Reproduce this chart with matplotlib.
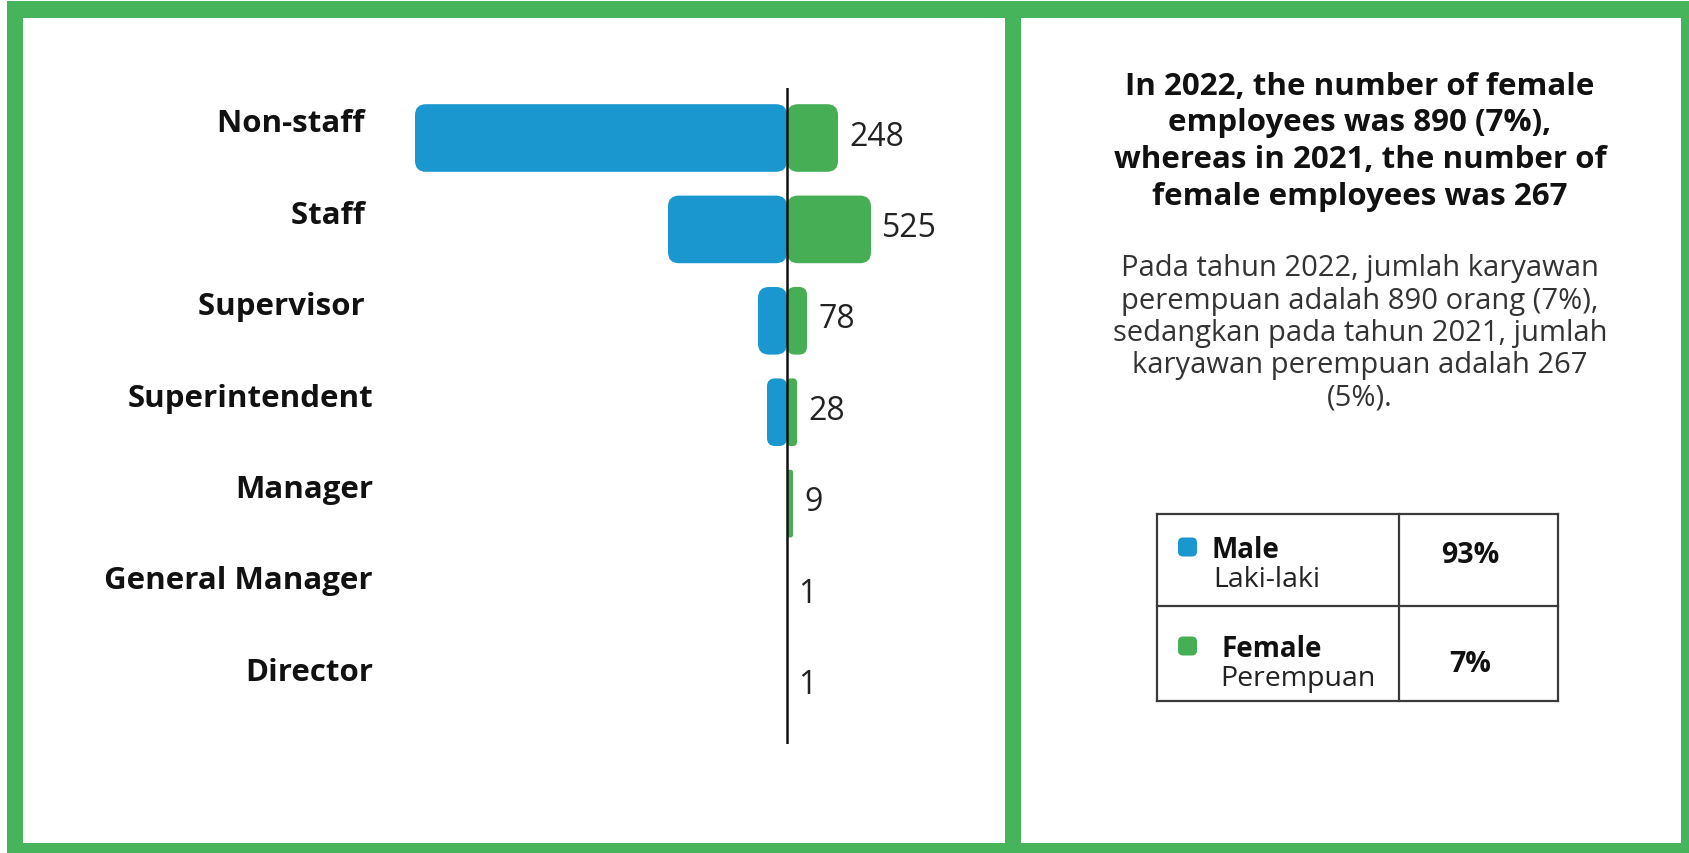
import matplotlib.pyplot as plt
from matplotlib.patches import FancyBboxPatch, Rectangle

plt.rcParams['font.family'] = ['Open Sans', 'DejaVu Sans']

categories = ['Non-staff ', 'Staff ', 'Supervisor ', 'Superintendent',
              'Manager', 'General Manager', 'Director']
female_count = [248, 525, 78, 28, 9, 1, 1]
# bar lengths as they are drawn in the source graphic (not to scale with the counts)
male_bar = [372, 119, 29, 20, 0, 0, 0]
female_bar = [51, 84, 20, 10, 6, 0, 0]

gender = ['Male', 'Female']
gender_id = ['Laki-laki', 'Perempuan']
share = ['93%', '7%']

headline = ['In 2022, the number of female',
            'employees was 890 (7%),',
            'whereas in 2021, the number of',
            'female employees was 267']
body = ['Pada tahun 2022, jumlah karyawan',
        'perempuan adalah 890 orang (7%),',
        'sedangkan pada tahun 2021, jumlah',
        'karyawan perempuan adalah 267',
        '(5%).']

BLUE = '#1b97cf'
GREEN = '#46ae55'
FRAME = '#46b45b'
W, H = 1690, 854

fig = plt.figure(figsize=(W / 100, H / 100), dpi=100)

# background layer in pixel units: frame, panels, text, table
bg = fig.add_axes([0, 0, 1, 1], zorder=0)
bg.set_xlim(0, W)
bg.set_ylim(H, 0)
bg.axis('off')
bg.add_patch(Rectangle((7, 2), W - 7, H - 2, fc=FRAME, ec='none'))
bg.add_patch(Rectangle((23, 19), 1005 - 23, 844 - 19, fc='white', ec='none'))
bg.add_patch(Rectangle((1021, 19), 1681 - 1021, 844 - 19, fc='white', ec='none'))

for i, line in enumerate(headline):
    bg.text(1360, 87 + i * 36.5, line, ha='center', va='center',
            fontsize=22.5, fontweight='bold', color='#111111')
for i, line in enumerate(body):
    bg.text(1360, 269 + i * 32.3, line, ha='center', va='center',
            fontsize=21, color='#333333')

# legend table
tx = [1157, 1399, 1558]
ty = [515, 607, 702]
for x in tx:
    bg.plot([x, x], [ty[0], ty[-1]], color='#3a3a3a', lw=1.6, solid_capstyle='projecting')
for y in ty:
    bg.plot([tx[0], tx[-1]], [y, y], color='#3a3a3a', lw=1.6, solid_capstyle='projecting')

dot_y = [548, 647]
name_x = [1212, 1222]
sub_x = [1213, 1220]
sub_y = [580, 679]
pct_y = [556, 665]
for i, (col, g, gid, s) in enumerate(zip([BLUE, GREEN], gender, gender_id, share)):
    bg.add_patch(FancyBboxPatch((1178, dot_y[i] - 9.5), 19, 19,
                                boxstyle='round,pad=0,rounding_size=5',
                                fc=col, ec='none'))
    bg.text(name_x[i], dot_y[i] + 3, g, ha='left', va='center',
            fontsize=20, fontweight='bold', color='#111111')
    bg.text(sub_x[i], sub_y[i], gid, ha='left', va='center',
            fontsize=20.5, color='#222222')
    bg.text(1470, pct_y[i], s, ha='center', va='center',
            fontsize=20.5, fontweight='bold', color='#111111')

# chart
row_px = 91.4
ax = fig.add_axes([380 / W, 1 - 745 / H, 580 / W, 656 / H], zorder=1)
ax.patch.set_alpha(0)
for sp in ax.spines.values():
    sp.set_visible(False)
ax.set_xticks([])
ax.set_yticks([])
ax.set_xlim(-407, 173)
top = -(139 - 89) / row_px
ax.set_ylim(top + 656 / row_px, top)

ypos = list(range(len(categories)))
male_bars = ax.barh(ypos, [-v for v in male_bar], height=0.74, color=BLUE)
female_bars = ax.barh(ypos, female_bar, height=0.74, color=GREEN)


def round_bars(bars, color):
    for b in bars:
        x, y, w, h = b.get_x(), b.get_y(), b.get_width(), b.get_height()
        b.remove()
        if w == 0:
            continue
        r = min(11, abs(w) / 2.5)
        ax.add_patch(FancyBboxPatch((min(x, x + w), y), abs(w), h,
                                    boxstyle=f'round,pad=0,rounding_size={r}',
                                    mutation_aspect=1 / row_px,
                                    fc=color, ec='none', zorder=2))


round_bars(male_bars, BLUE)
round_bars(female_bars, GREEN)

ax.axvline(0, color='#111111', lw=1.8, zorder=3)

for i, (name, n) in enumerate(zip(categories, female_count)):
    ax.text(female_bar[i] + 11, i - 0.02, str(n), ha='left', va='center',
            fontsize=23, color='#222222')
    ax.text(-414, i - 0.16, name, ha='right', va='center',
            fontsize=22.5, fontweight='bold', color='#111111')

fig.savefig('out.png', dpi=100)
